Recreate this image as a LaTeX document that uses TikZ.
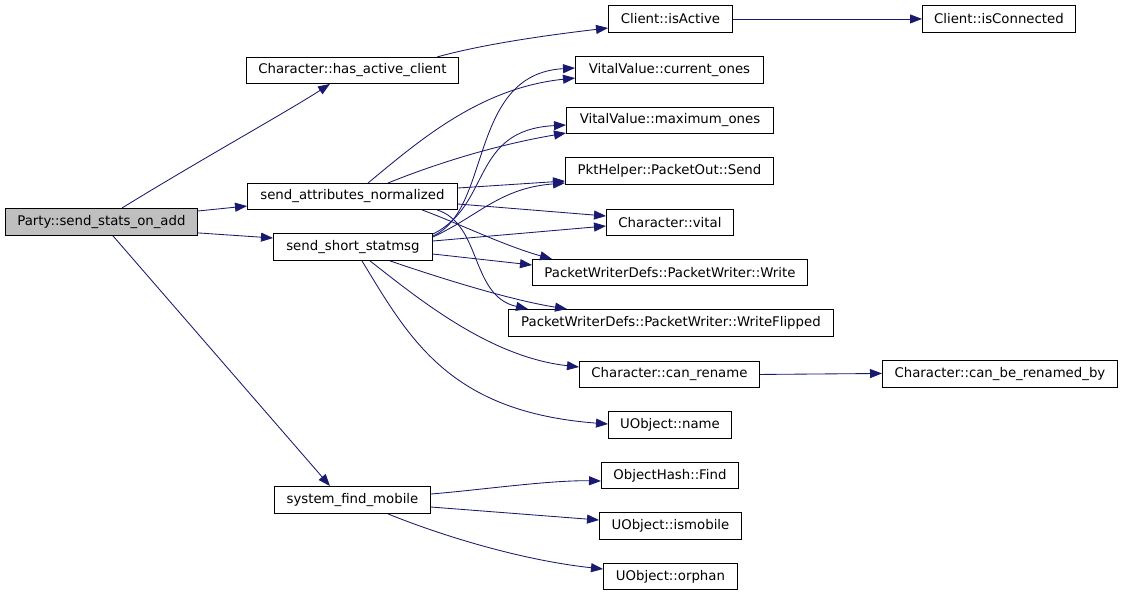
\documentclass[tikz,border=0pt]{standalone}
\usepackage{fontspec}
\setmainfont{DejaVu Sans}
\usetikzlibrary{arrows.meta,calc}
\definecolor{edgeblue}{HTML}{191970}
\definecolor{rootgray}{HTML}{BFBFBF}
\begin{document}
\begin{tikzpicture}[x=1pt,y=-1pt,
  box/.style={draw=black,line width=0.9pt,fill=white,inner sep=0pt,anchor=north west,
    font=\fontsize{13.3}{15}\selectfont},
  edge/.style={draw=edgeblue,line width=0.85pt,-{Triangle[length=12pt,width=9pt]}}]
\useasboundingbox (0,0) rectangle (1123,595);
\fill[white] (0,0) rectangle (1123,595);
% nodes
\node[box,fill=rootgray,minimum width=192pt,minimum height=27pt] (party) at (5,208) {Party::send\_stats\_on\_add};
\node[box,minimum width=212pt,minimum height=26pt] (hac) at (246,57) {Character::has\_active\_client};
\node[box,minimum width=124pt,minimum height=27pt] (isact) at (608,5) {Client::isActive};
\node[box,minimum width=153pt,minimum height=27pt] (iscon) at (922,5) {Client::isConnected};
\node[box,minimum width=188pt,minimum height=27pt] (cur) at (575,56) {VitalValue::current\_ones};
\node[box,minimum width=207pt,minimum height=26pt] (max) at (566,107) {VitalValue::maximum\_ones};
\node[box,minimum width=208pt,minimum height=27pt] (send) at (565,157) {PktHelper::PacketOut::Send};
\node[box,minimum width=127pt,minimum height=26pt] (vital) at (606,209) {Character::vital};
\node[box,minimum width=210pt,minimum height=26pt] (san) at (247,183) {send\_attributes\_normalized};
\node[box,minimum width=159pt,minimum height=27pt] (ssm) at (273,233) {send\_short\_statmsg};
\node[box,minimum width=275pt,minimum height=26pt] (write) at (532,259) {PacketWriterDefs::PacketWriter::Write};
\node[box,minimum width=325pt,minimum height=27pt] (wf) at (508,309) {PacketWriterDefs::PacketWriter::WriteFlipped};
\node[box,minimum width=180pt,minimum height=26pt] (canr) at (579,361) {Character::can\_rename};
\node[box,minimum width=235pt,minimum height=27pt] (cbrb) at (882,360) {Character::can\_be\_renamed\_by};
\node[box,minimum width=123pt,minimum height=27pt] (uname) at (608,411) {UObject::name};
\node[box,minimum width=156pt,minimum height=27pt] (sfm) at (274,486) {system\_find\_mobile};
\node[box,minimum width=137pt,minimum height=26pt] (find) at (601,462) {ObjectHash::Find};
\node[box,minimum width=142pt,minimum height=27pt] (ismob) at (599,512) {UObject::ismobile};
\node[box,minimum width=134pt,minimum height=26pt] (orphan) at (603,563) {UObject::orphan};
% edges from party
\draw[edge] ($(party.north west)+(117,0)$) .. controls (200,160) and (290,110) .. ($(hac.south west)+(84,0)$);
\draw[edge] ($(party.north east)+(0,3)$) -- ($(san.north west)+(0,23)$);
\draw[edge] ($(party.south east)+(0,-3)$) -- ($(ssm.north west)+(0,5)$);
\draw[edge] ($(party.south west)+(108,0)$) -- ($(sfm.north west)+(56,0)$);
% has_active_client
\draw[edge] ($(hac.north west)+(191,0)$) .. controls (480,45) and (540,36) .. ($(isact.north west)+(0,23)$);
\draw[edge] (isact.east) -- (iscon.west);
% send_attributes_normalized
\draw[edge] ($(san.north west)+(121,0)$) .. controls (420,140) and (480,88) .. ($(cur.north west)+(0,22)$);
\draw[edge] ($(san.north west)+(141,0)$) .. controls (430,166) and (490,146) .. ($(max.north west)+(0,26)$);
\draw[edge] ($(san.north east)+(0,5)$) -- ($(send.north west)+(0,24)$);
\draw[edge] ($(san.north east)+(0,21)$) -- ($(vital.north west)+(0,7)$);
\draw[edge] ($(san.south west)+(175,0)$) .. controls (460,224) and (505,246) .. ($(write.north west)+(20,0)$);
\draw[edge] ($(san.south west)+(190,0)$) .. controls (482,224) and (470,296) .. ($(wf.north west)+(20,0)$);
% send_short_statmsg
\draw[edge] ($(ssm.north east)+(0,3)$) .. controls (492,210) and (468,74) .. ($(cur.north west)+(0,12)$);
\draw[edge] ($(ssm.north east)+(0,1)$) .. controls (492,205) and (470,130) .. ($(max.north west)+(0,18)$);
\draw[edge] ($(ssm.north east)+(0,4)$) .. controls (480,215) and (500,188) .. ($(send.north west)+(0,26)$);
\draw[edge] ($(ssm.north east)+(0,8)$) -- ($(vital.north west)+(0,17)$);
\draw[edge] ($(ssm.north east)+(0,21)$) -- ($(write.north west)+(0,6)$);
\draw[edge] ($(ssm.south west)+(117,0)$) .. controls (440,278) and (510,300) .. ($(wf.north west)+(59,0)$);
\draw[edge] ($(ssm.south west)+(97,0)$) .. controls (420,300) and (490,357) .. ($(canr.north west)+(0,6)$);
\draw[edge] ($(ssm.south west)+(89,0)$) .. controls (410,340) and (450,412) .. ($(uname.north west)+(0,13)$);
% can_rename
\draw[edge] (canr.east) -- ($(cbrb.west)+(0,-0.5)$);
% system_find_mobile
\draw[edge] ($(sfm.north east)+(0,8)$) .. controls (480,490) and (550,480) .. ($(find.north west)+(0,19)$);
\draw[edge] ($(sfm.north east)+(0,21)$) -- ($(ismob.north west)+(0,8)$);
\draw[edge] ($(sfm.south west)+(114,0)$) .. controls (440,535) and (520,560) .. ($(orphan.north west)+(0,6)$);
\end{tikzpicture}
\end{document}
